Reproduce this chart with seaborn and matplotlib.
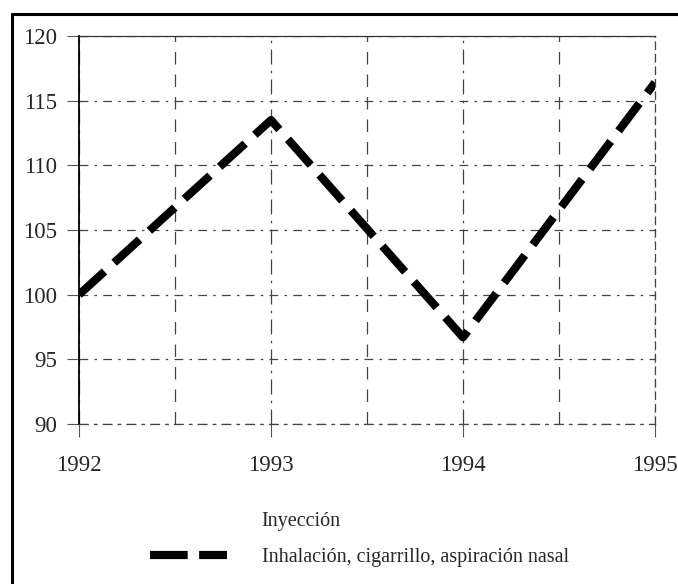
import matplotlib
matplotlib.use("Agg")
import matplotlib.pyplot as plt
import seaborn as sns
import pandas as pd
from matplotlib.lines import Line2D

years = [1992, 1993, 1994, 1995]
inhalacion = [100.0, 113.5, 96.7, 116.4]
y_ticks = [90, 95, 100, 105, 110, 115, 120]
x_ticks = [1992, 1993, 1994, 1995]
series_labels = ["Inyección", "Inhalación, cigarrillo, aspiración nasal"]

sns.set_theme(style="white")
plt.rcParams["font.family"] = ["Liberation Serif", "DejaVu Serif"]

fig = plt.figure(figsize=(6.78, 5.84), dpi=100)
ax = fig.add_axes([79/678, 1-424/584, (655-79)/678, (424-36)/584])

LW = 5.9
DASH = (0, (4.2, 1.6))

df = pd.DataFrame({"year": years, "value": inhalacion})
sns.lineplot(data=df, x="year", y="value", ax=ax, color="black", lw=LW,
             linestyle=DASH, dash_capstyle="butt", legend=False)

ax.set_xlim(1992, 1995)
ax.set_ylim(90, 120)
ax.set_xticks(x_ticks)
ax.set_xticklabels([str(x) for x in x_ticks], fontsize=16.5)
ax.set_yticks(y_ticks)
ax.set_yticklabels([str(y) for y in y_ticks], fontsize=16.5)
ax.set_xticks([1992.5, 1993.5, 1994.5], minor=True)
ax.set_xlabel("")
ax.set_ylabel("")

ax.grid(True, which="major", axis="y", color="#444444", linestyle=(0, (7, 5, 2, 5)), linewidth=0.9)
ax.grid(True, which="major", axis="x", color="#444444", linestyle=(0, (12, 5, 2, 5)), linewidth=0.9)
ax.grid(True, which="minor", axis="x", color="#444444", linestyle=(0, (10, 8)), linewidth=0.9)
ax.set_axisbelow(True)

ax.tick_params(axis="y", which="major", length=9, width=0.8, color="#555555", pad=7, left=True)
ax.tick_params(axis="x", which="major", length=9, width=0.8, color="#555555", pad=13, bottom=True)
ax.tick_params(axis="x", which="minor", length=0)

ax.spines["left"].set_visible(True)
ax.spines["left"].set_color("black")
ax.spines["left"].set_linewidth(1.3)
ax.spines["top"].set_color("#333333")
ax.spines["top"].set_linewidth(0.9)
ax.spines["right"].set_color("#444444")
ax.spines["right"].set_linestyle((0, (6, 4)))
ax.spines["right"].set_linewidth(0.9)
ax.spines["bottom"].set_visible(True)
ax.spines["bottom"].set_color("#444444")
ax.spines["bottom"].set_linestyle((0, (7, 5, 2, 5)))
ax.spines["bottom"].set_linewidth(0.9)

handles = [
    Line2D([], [], color="white", lw=0),
    Line2D([], [], color="black", lw=LW, linestyle=(0, (4.6, 1.4)), dash_capstyle="butt"),
]
fig.legend(handles, series_labels, loc="upper left",
           bbox_to_anchor=(150/678, 1-512/584), frameon=False,
           fontsize=14.5, handlelength=3.8, handletextpad=1.75,
           labelspacing=0.85, borderpad=0, borderaxespad=0)

# figure border (left and top)
fig.add_artist(Line2D([12/678, 12/678], [0, 1-14/584], transform=fig.transFigure,
                      color="black", lw=2.2))
fig.add_artist(Line2D([12/678, 1], [1-14/584, 1-14/584], transform=fig.transFigure,
                      color="black", lw=2.2))

fig.savefig("out.png", dpi=100)
